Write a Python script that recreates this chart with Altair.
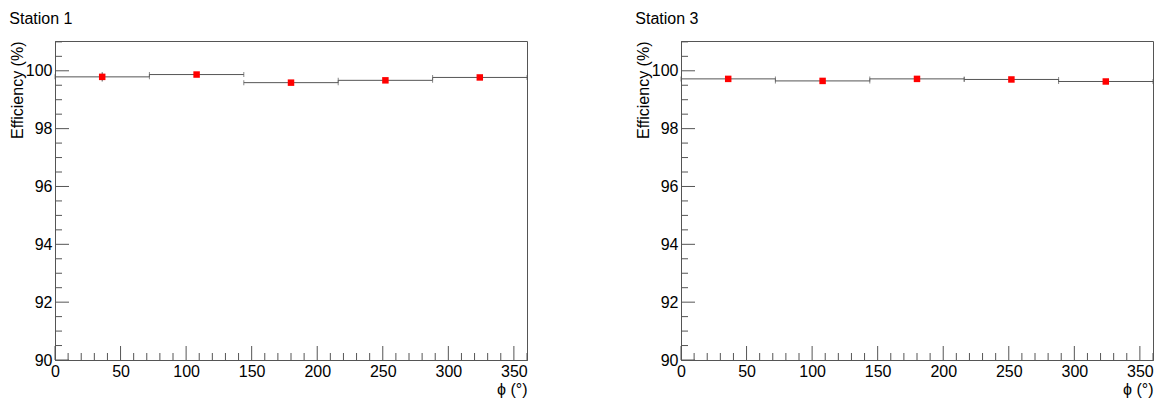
import altair as alt
import pandas as pd

# ---- data ----
bin_lo = [0, 72, 144, 216, 288]
bin_hi = [72, 144, 216, 288, 360]
bin_center = [36, 108, 180, 252, 324]
eff_station1 = [99.79, 99.87, 99.59, 99.67, 99.77]
err_station1 = [0.16, 0.06, 0.06, 0.06, 0.06]
eff_station3 = [99.72, 99.65, 99.72, 99.70, 99.63]
err_station3 = [0.06, 0.06, 0.06, 0.06, 0.06]

x_major = [0, 50, 100, 150, 200, 250, 300, 350]
x_minor = [v for v in range(0, 361, 10) if v % 50 != 0]
y_major = [90, 92, 94, 96, 98, 100]
y_minor = [v / 2 for v in range(181, 203) if v % 4 != 0]

Y_MIN, Y_MAX = 90, 101.03
W, H = 472, 319
FONT = "Liberation Sans"
LINE = "#555555"


def panel(title, eff, err):
    df = pd.DataFrame({"lo": bin_lo, "hi": bin_hi, "c": bin_center,
                       "eff": eff, "err": err})
    df["elo"] = df["eff"] - df["err"]
    df["ehi"] = df["eff"] + df["err"]

    xs = alt.Scale(domain=[0, 360], nice=False, zero=False)
    ys = alt.Scale(domain=[Y_MIN, Y_MAX], nice=False, zero=False)

    xaxis = alt.Axis(values=x_major, ticks=False, grid=False, labelFlush=False,
                     labelFont=FONT, labelFontSize=16, labelColor="black",
                     labelPadding=3, domainColor=LINE,
                     title="ϕ (°)", titleFont=FONT, titleFontSize=16,
                     titleFontWeight="normal", titleColor="black",
                     titleAnchor="end", titlePadding=2)
    yaxis = alt.Axis(values=y_major, ticks=False, grid=False,
                     labelFont=FONT, labelFontSize=16, labelColor="black",
                     labelPadding=3, domainColor=LINE,
                     title="Efficiency (%)", titleFont=FONT, titleFontSize=16,
                     titleFontWeight="normal", titleColor="black",
                     titleAnchor="end", titlePadding=0)

    base = alt.Chart(df)
    hline = base.mark_rule(color=LINE, strokeWidth=1).encode(
        x=alt.X("lo:Q", scale=xs, axis=xaxis),
        x2="hi:Q",
        y=alt.Y("eff:Q", scale=ys, axis=yaxis),
    )
    cap_lo = base.mark_tick(color=LINE, orient="vertical", size=5, thickness=1).encode(
        x=alt.X("lo:Q", scale=xs), y=alt.Y("eff:Q", scale=ys))
    cap_hi = base.mark_tick(color=LINE, orient="vertical", size=5, thickness=1).encode(
        x=alt.X("hi:Q", scale=xs), y=alt.Y("eff:Q", scale=ys))
    ebar = base.mark_rule(color=LINE, strokeWidth=1).encode(
        x=alt.X("c:Q", scale=xs), y=alt.Y("elo:Q", scale=ys), y2="ehi:Q")
    pts = base.mark_square(color="#ff0000", size=42, opacity=1, filled=True).encode(
        x=alt.X("c:Q", scale=xs), y=alt.Y("eff:Q", scale=ys))

    xmaj = alt.Chart(pd.DataFrame({"v": x_major})).mark_rule(color=LINE).encode(
        x=alt.X("v:Q", scale=xs), y=alt.value(H), y2=alt.value(H - 14))
    xmin = alt.Chart(pd.DataFrame({"v": x_minor})).mark_rule(color=LINE).encode(
        x=alt.X("v:Q", scale=xs), y=alt.value(H), y2=alt.value(H - 7))
    ymaj = alt.Chart(pd.DataFrame({"v": y_major})).mark_rule(color=LINE).encode(
        y=alt.Y("v:Q", scale=ys), x=alt.value(0), x2=alt.value(14))
    ymin = alt.Chart(pd.DataFrame({"v": y_minor})).mark_rule(color=LINE).encode(
        y=alt.Y("v:Q", scale=ys), x=alt.value(0), x2=alt.value(7))

    return alt.layer(hline, cap_lo, cap_hi, ebar, xmaj, xmin, ymaj, ymin, pts).properties(
        width=W, height=H,
        title=alt.TitleParams(title, anchor="start", frame="bounds", font=FONT,
                              fontSize=16, fontWeight="normal", color="black",
                              offset=14),
    )


chart = alt.hconcat(
    panel("Station 1", eff_station1, err_station1),
    panel("Station 3", eff_station3, err_station3),
    spacing=106,
).properties(
    padding={"left": 0, "top": 2, "right": 0, "bottom": 0},
    background="white",
).configure_view(stroke=LINE, strokeWidth=1)

chart.save("out.html", embed_options={"renderer": "svg", "actions": False})
